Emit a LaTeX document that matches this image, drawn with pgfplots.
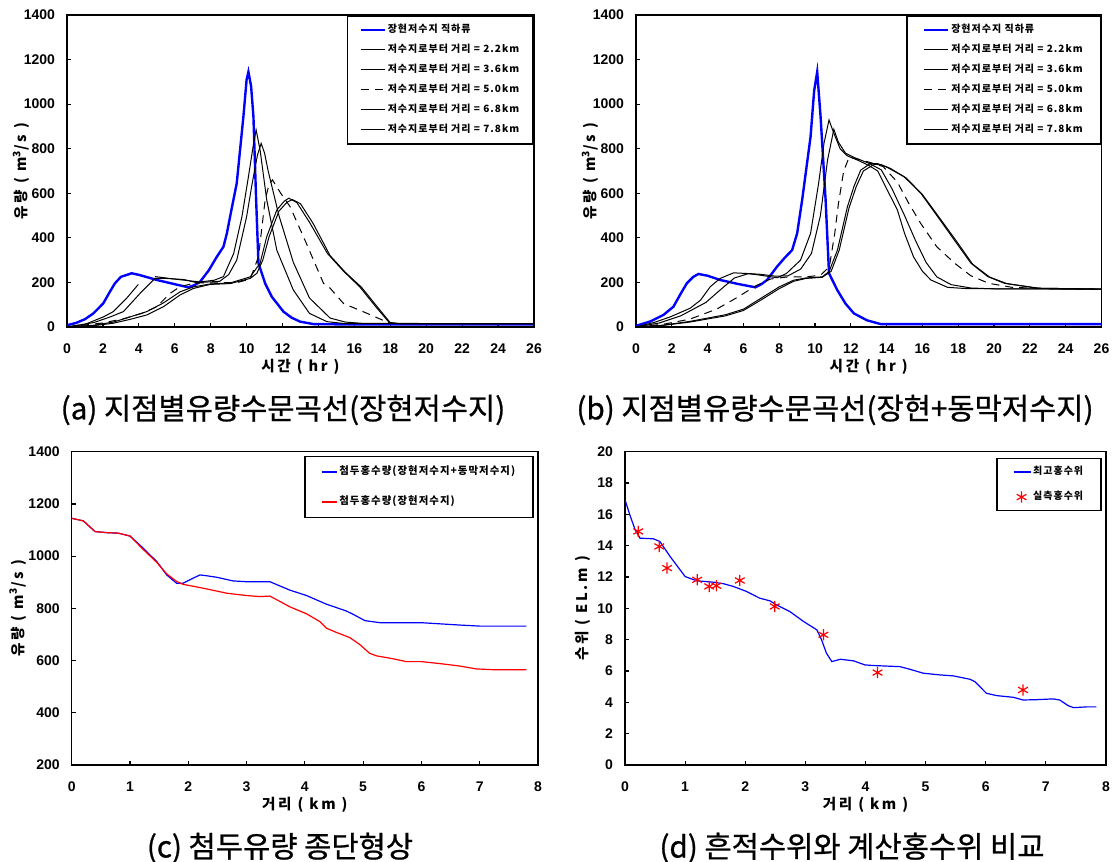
\documentclass[border=0pt]{standalone}
\usepackage{fontspec}
\setmainfont{Liberation Sans}
\newfontfamily\kr{Noto Sans CJK KR}
\newfontfamily\krs[LetterSpace=10]{Noto Sans CJK KR}
\newfontfamily\krl[LetterSpace=18]{Noto Sans CJK KR}
\newfontfamily\krc[FakeBold=0.8]{Noto Sans CJK KR}
\usepackage{pgfplots}
\pgfplotsset{compat=1.18}

\pgfplotsset{
  base/.style={
    scale only axis,
    anchor=south west,
    axis line style={line width=0.8pt},
    tick align=inside,
    xtick pos=bottom, ytick pos=left,
    major tick length=2pt,
    tick style={black, line width=0.6pt},
    tick label style={font=\bfseries\fontsize{7}{8}\selectfont},
    /pgf/number format/assume math mode=true,
    /pgf/number format/1000 sep={},
    xticklabel style={yshift=-5pt},
    yticklabel style={xshift=-2.5pt},
    label style={font=\krl\bfseries\fontsize{7.3}{8}\selectfont},
    xlabel style={at={(axis description cs:0.5,0)}, anchor=center, yshift=-20pt},
    ylabel style={at={(axis description cs:0,0.5)}, anchor=center, yshift=23pt},
    legend cell align=left,
    legend style={draw=black, line width=0.8pt, anchor=north east,
      font=\krs\bfseries\fontsize{5}{6}\selectfont,
      nodes={inner sep=1pt, text height=3.8pt, text depth=1.2pt}},
  },
  hydro/.style={base,
    width=233pt, height=156pt,
    xmin=0, xmax=26, ymin=0, ymax=1400,
    xtick={0,2,...,26}, ytick={0,200,...,1400},
    xlabel={시간 ( hr )}, ylabel={유량 ( m\textsuperscript{3}/s )},
    legend image code/.code={\draw[##1] (0pt,0pt) -- (12pt,0pt);},
    legend style={at={(1,1)}, row sep=3pt, inner xsep=6pt, inner ysep=3.5pt},
    unbounded coords=jump,
  },
  shortline/.style={legend image code/.code={\draw[##1] (0pt,0pt) -- (7.5pt,0pt);}},
  dline/.style={legend image code/.code={\draw[##1] (0pt,0pt) -- (8.5pt,0pt);}},
  dmark/.style={legend image code/.code={\draw[##1] plot coordinates {(4pt,0pt)};}},
  bl/.style={blue, line width=1.2pt},
  bk/.style={black, line width=0.5pt},
  bkd/.style={black, line width=0.5pt, dash pattern=on 4pt off 3pt},
}

\begin{document}
\begin{tikzpicture}
\path[use as bounding box] (0pt,0pt) rectangle (557pt,431pt);

% (a)
\begin{axis}[hydro, at={(33.5pt,267.5pt)}, width=233.5pt]
\addplot[bl] coordinates {(0,8) (0.5,18) (1,35) (1.47,61) (2.02,106) (2.4,160) (2.67,196) (3.0,225) (3.6,241) (4.0,234) (5.0,211) (6.0,192) (6.76,178) (7.1,188) (7.41,203) (7.9,255) (8.34,315) (8.71,360) (8.9,420) (9.08,495) (9.45,645) (9.82,943) (10.0,1110) (10.1,1145) (10.25,1080) (10.38,943) (10.53,570) (10.66,286) (11.03,196) (11.4,136) (12.05,69) (12.5,42) (12.98,24) (13.72,13) (15,12) (26,12)};
\addplot[bk] coordinates {(0,0) (1,12) (2.02,45) (2.58,69) (3.32,129) (3.97,191) (4.4,nan) (4.9,226) (6.1,214) (7.4,202) (8.2,210) (8.71,226) (9.28,330) (9.74,495) (10.1,674) (10.4,830) (10.53,884) (10.75,794) (11.12,570) (11.68,345) (12.6,166) (13.5,61) (14.47,24) (15.5,15) (26,15)};
\addplot[bk] coordinates {(0,0) (1.5,20) (2.4,45) (3.14,69) (4.07,151) (4.9,218) (5.5,218) (6.5,213) (7.22,199) (8.5,205) (9.0,235) (9.45,300) (10.0,495) (10.3,640) (10.6,770) (10.81,824) (11.0,780) (11.2,700) (11.8,500) (12.6,290) (13.5,130) (14.65,40) (15.5,22) (16.5,16) (26,15)};
\addplot[bkd] coordinates {(0,0) (2,18) (3.2,38) (4.2,62) (5.0,91) (5.74,151) (6.3,181) (7.0,195) (7.5,198) (8.5,198) (9.5,200) (10.2,215) (10.66,315) (11.03,570) (11.25,640) (11.44,660) (11.9,600) (12.42,540) (13.3,380) (14.28,196) (14.65,174) (15.4,105) (16.6,65) (17.9,19) (18.5,15) (26,15)};
\addplot[bk] coordinates {(0,0) (1.5,8) (2.58,22) (3.5,45) (4.44,69) (5.37,108) (6.3,158) (7.04,180) (7.97,193) (9.1,198) (10.2,225) (10.75,286) (11.12,405) (11.68,525) (12.1,565) (12.35,578) (12.8,558) (13.5,470) (14.5,330) (15.4,250) (16.3,180) (17.2,90) (17.95,19) (18.5,15) (26,15)};
\addplot[bk] coordinates {(0,0) (1.5,6) (2.58,17) (3.5,34) (4.44,54) (5.37,91) (6.3,144) (7.04,173) (7.97,191) (9.1,195) (10.2,218) (10.57,241) (10.9,300) (11.25,405) (11.8,520) (12.25,560) (12.55,572) (13.0,553) (13.7,465) (14.65,320) (15.5,245) (16.4,178) (17.3,88) (18.0,19) (18.5,15) (26,15)};
\legend{장현저수지 직하류, 저수지로부터 거리 = 2.2km, 저수지로부터 거리 = 3.6km, 저수지로부터 거리 = 5.0km, 저수지로부터 거리 = 6.8km, 저수지로부터 거리 = 7.8km}
\end{axis}

% (b)
\begin{axis}[hydro, at={(318pt,267.5pt)}, width=232.75pt, legend style={inner xsep=8pt}]
\addplot[bl] coordinates {(0,5) (0.8,25) (1.53,54) (2.09,91) (2.5,150) (2.84,196) (3.2,225) (3.49,238) (4.0,230) (4.7,211) (5.7,193) (6.67,178) (7.0,192) (7.32,211) (7.88,271) (8.3,310) (8.72,345) (9.0,420) (9.28,570) (9.75,854) (9.95,1060) (10.12,1145) (10.31,943) (10.59,570) (10.78,241) (11.24,166) (11.7,105) (12.17,61) (12.9,30) (13.67,13) (26,13)};
\addplot[bk] coordinates {(0,0) (1,20) (1.9,45) (3.02,84) (3.6,120) (4.15,181) (4.7,218) (5.45,243) (6.2,240) (6.9,233) (7.88,221) (8.4,240) (9.19,300) (9.75,420) (10.2,645) (10.5,824) (10.78,929) (11.0,880) (11.4,800) (11.8,768) (12.4,748) (13.0,725) (13.5,700) (14.0,620) (14.6,525) (15.0,420) (15.5,315) (16.0,250) (16.47,211) (17.4,178) (18.5,172) (26,170)};
\addplot[bk] coordinates {(0,0) (1.3,18) (2.5,50) (3.9,110) (4.9,180) (5.5,220) (6.3,240) (7.0,236) (7.8,228) (8.5,230) (9.2,260) (9.8,330) (10.3,500) (10.7,750) (11.05,887) (11.3,830) (11.7,780) (12.2,760) (13.0,735) (13.7,705) (14.3,620) (15.0,500) (15.6,390) (16.2,290) (16.8,225) (17.6,190) (18.7,175) (20,171) (26,170)};
\addplot[bkd] coordinates {(0,0) (1.5,12) (3,35) (4.5,80) (5.6,130) (6.7,185) (7.5,215) (8.5,225) (9.5,225) (10.3,232) (10.8,270) (11.1,420) (11.3,550) (11.6,700) (11.9,761) (12.3,755) (13.0,740) (13.8,720) (14.6,650) (15.2,560) (15.9,465) (16.8,360) (17.8,286) (18.7,230) (19.7,196) (21,178) (23,172) (26,170)};
\addplot[bk] coordinates {(0,0) (1.5,8) (3,25) (5,55) (6,80) (7,130) (8,180) (8.8,210) (9.5,220) (10.4,225) (10.78,248) (11.25,345) (11.81,540) (12.17,630) (12.55,704) (13.1,734) (13.5,733) (14.04,716) (14.98,674) (15.91,600) (16.85,495) (17.78,390) (18.71,286) (19.65,226) (20.58,196) (22.4,174) (26,170)};
\addplot[bk] coordinates {(0,0) (1.5,7) (3,22) (5,50) (6,74) (7,122) (8,172) (8.8,205) (9.5,218) (10.4,223) (10.9,250) (11.35,345) (11.9,535) (12.3,630) (12.7,700) (13.3,730) (13.7,728) (14.2,712) (15.1,668) (16.0,594) (16.95,490) (17.9,385) (18.8,282) (19.75,224) (20.7,195) (22.5,174) (26,170)};
\legend{장현저수지 직하류, 저수지로부터 거리 = 2.2km, 저수지로부터 거리 = 3.6km, 저수지로부터 거리 = 5.0km, 저수지로부터 거리 = 6.8km, 저수지로부터 거리 = 7.8km}
\end{axis}

% (c)
\begin{axis}[base, at={(35.85pt,48.5pt)}, width=233.15pt, height=156.65pt,
  xmin=0, xmax=8, ymin=200, ymax=1400, xtick={0,...,8}, ytick={200,400,...,1400},
  xlabel={거리 ( km )}, ylabel={유량 ( m\textsuperscript{3}/s )},
  ylabel style={yshift=4pt},
  shortline,
  legend style={at={(1,1)}, xshift=-2pt, yshift=-2pt, row sep=8pt, inner xsep=8pt, inner ysep=4.3pt,
    font=\krs\bfseries\fontsize{5.2}{6}\selectfont}]
\addplot[blue, line width=0.6pt] coordinates {(0,1145) (0.2,1135) (0.4,1094) (0.6,1090) (0.8,1088) (1.0,1077) (1.23,1030) (1.46,979) (1.63,928) (1.8,896) (1.91,896) (2.05,912) (2.2,928) (2.31,925) (2.49,919) (2.77,905) (3.0,902) (3.4,902) (3.74,870) (4.03,849) (4.37,816) (4.71,790) (4.83,777) (5.03,753) (5.29,745) (6.0,745) (6.66,736) (7.0,732) (7.8,732)};
\addplot[red, line width=0.6pt] coordinates {(0,1145) (0.2,1135) (0.4,1094) (0.6,1090) (0.8,1088) (1.0,1077) (1.23,1025) (1.46,976) (1.63,932) (1.8,903) (1.91,892) (2.26,877) (2.66,858) (3.0,849) (3.23,845) (3.4,847) (3.51,834) (3.74,806) (4.03,779) (4.26,749) (4.37,724) (4.54,708) (4.77,688) (4.94,662) (5.11,628) (5.23,618) (5.51,607) (5.74,596) (6.0,596) (6.37,587) (6.66,579) (6.94,568) (7.23,565) (7.8,565)};
\legend{첨두홍수량(장현저수지+동막저수지), 첨두홍수량(장현저수지)}
\end{axis}

% (d)
\begin{axis}[base, at={(312.5pt,48.5pt)}, width=240.5pt, height=156.65pt,
  xmin=0, xmax=8, ymin=0, ymax=20, xtick={0,...,8}, ytick={0,2,...,20},
  xlabel={거리 ( km )}, ylabel={수위 ( EL.m )},
  ylabel style={yshift=-2pt},
  legend style={at={(1,1)}, xshift=-2pt, yshift=-3pt, row sep=5.5pt, inner xsep=8pt, inner ysep=3.3pt}]
\addplot[blue, line width=0.6pt, dline] coordinates {(0,16.93) (0.08,15.97) (0.17,15.0) (0.25,14.48) (0.47,14.44) (0.58,14.27) (0.75,13.31) (1.0,12.03) (1.19,11.76) (1.47,11.67) (1.64,11.57) (1.8,11.4) (2.02,11.08) (2.24,10.65) (2.41,10.48) (2.52,10.22) (2.74,9.8) (2.97,9.16) (3.19,8.63) (3.27,7.99) (3.35,7.14) (3.44,6.6) (3.58,6.75) (3.8,6.65) (3.99,6.39) (4.13,6.35) (4.57,6.28) (4.74,6.11) (4.96,5.86) (5.24,5.75) (5.46,5.69) (5.74,5.47) (5.82,5.32) (6.01,4.58) (6.18,4.43) (6.46,4.32) (6.62,4.15) (6.85,4.17) (7.12,4.22) (7.23,4.15) (7.37,3.79) (7.46,3.66) (7.68,3.71) (7.84,3.71)};
\addplot[only marks, mark=asterisk, mark size=2.8pt, red, line width=0.6pt, dmark] coordinates {(0.22,14.91) (0.57,13.95) (0.70,12.57) (1.2,11.82) (1.40,11.4) (1.52,11.44) (1.91,11.78) (2.49,10.12) (3.30,8.31) (4.20,5.9) (6.62,4.79)};
\legend{최고홍수위, 실측홍수위}
\end{axis}

\node[font=\krc\fontsize{14.8}{16}\selectfont] at (141.5pt,226pt) {(a) 지점별유량수문곡선(장현저수지)};
\node[font=\krc\fontsize{14.8}{16}\selectfont] at (417.5pt,226pt) {(b) 지점별유량수문곡선(장현+동막저수지)};
\node[font=\krc\fontsize{14.8}{16}\selectfont] at (140pt,7pt) {(c) 첨두유량 종단형상};
\node[font=\krc\fontsize{14.8}{16}\selectfont] at (426pt,7pt) {(d) 흔적수위와 계산홍수위 비교};
\end{tikzpicture}
\end{document}
